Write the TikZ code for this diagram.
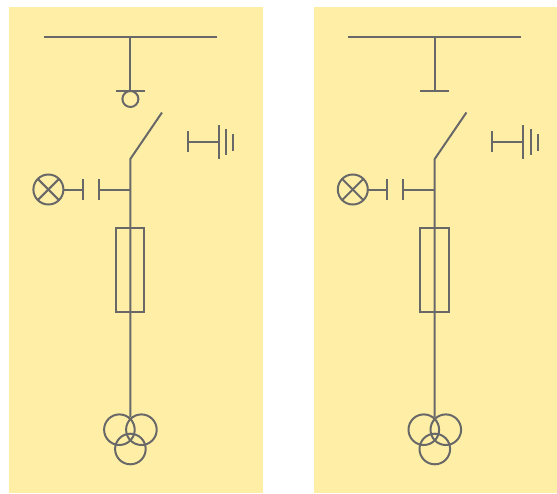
\documentclass[tikz,border=0pt]{standalone}
\definecolor{panelfill}{HTML}{FFEFA6}
\definecolor{wire}{HTML}{686868}
\tikzset{
  wireline/.style={draw=wire,line width=1.5pt},
  panelbox/.style={fill=panelfill,draw=none},
}
\newcommand{\unitcell}{%
  % busbar and stem
  \coordinate (busL) at (44,-36.5);
  \coordinate (busR) at (217,-36.5);
  \coordinate (busT) at (130.3,-36.5);
  \coordinate (stemB) at (130.3,-91);
  \draw[wireline] (busL) -- (busR);
  \draw[wireline] (busT) -- (stemB);
  \draw[wireline] (116,-91) -- (145,-91);
  % disconnector blade and main feeder
  \coordinate (bladeTop) at (162,-112.5);
  \coordinate (bladeFoot) at (130.3,-159);
  \coordinate (feederEnd) at (130.3,-417);
  \draw[wireline] (bladeTop) -- (bladeFoot) -- (feederEnd);
  % earth switch
  \draw[wireline] (187.5,-131) -- (187.5,-152);
  \draw[wireline] (187.5,-142) -- (219,-142);
  \draw[wireline] (219,-125) -- (219,-158.5);
  \draw[wireline] (226.4,-129) -- (226.4,-154.5);
  \draw[wireline] (233.4,-134) -- (233.4,-151);
  % indicator branch
  \draw[wireline] (130.3,-189.5) -- (99,-189.5);
  \draw[wireline] (99,-179) -- (99,-200);
  \draw[wireline] (82.5,-179) -- (82.5,-200);
  \draw[wireline] (82.5,-189.5) -- (63,-189.5);
  \draw[wireline] (48.4,-189.5) circle[radius=15];
  \draw[wireline] (48.4,-189.5) ++(45:15) -- ++(225:30);
  \draw[wireline] (48.4,-189.5) ++(135:15) -- ++(315:30);
  % fuse
  \draw[wireline] (116,-227.5) rectangle (144.3,-312);
  % transformer
  \draw[wireline] (119.4,-429.7) circle[radius=15.3];
  \draw[wireline] (141.4,-429.7) circle[radius=15.3];
  \draw[wireline] (130.4,-449) circle[radius=15.3];
}
\begin{document}
\begin{tikzpicture}[x=0.75pt,y=0.75pt]
\useasboundingbox (0,0) rectangle (557,-493);
\fill[panelbox] (9,-7) rectangle (263,-493);
\fill[panelbox] (314,-7) rectangle (557,-493);
\begin{scope}
  \unitcell
  \draw[wireline] (130.4,-99) circle[radius=8];
\end{scope}
\begin{scope}[shift={(304.4,0)}]
  \unitcell
\end{scope}
\end{tikzpicture}
\end{document}
